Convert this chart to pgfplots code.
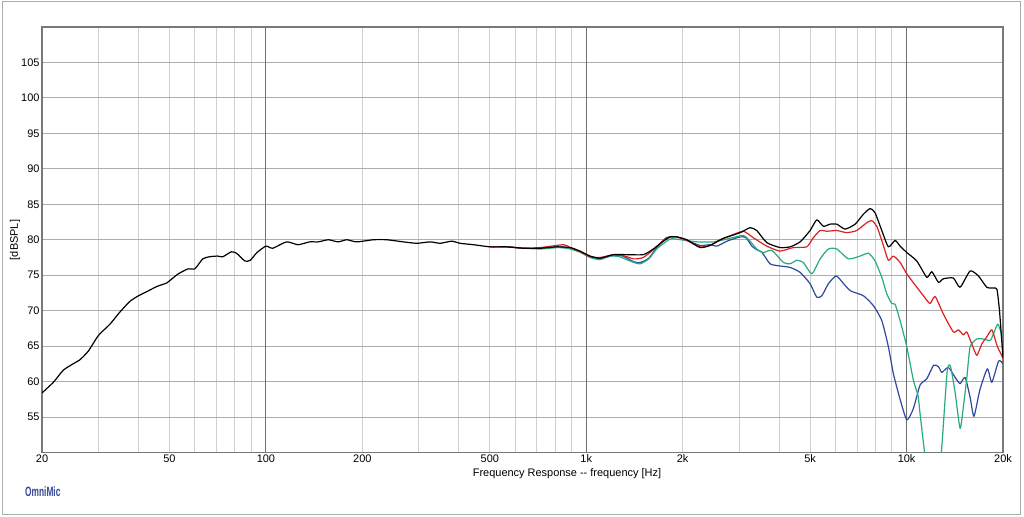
\documentclass[border=0pt]{standalone}
\usepackage{pgfplots}
\pgfplotsset{compat=1.18}
\usepackage{fontspec}
\setmainfont{Liberation Sans}
\definecolor{cred}{RGB}{222,32,32}
\definecolor{cgreen}{RGB}{38,172,128}
\definecolor{cblue}{RGB}{48,72,158}
\definecolor{gridlight}{RGB}{208,208,208}
\definecolor{gridmid}{RGB}{172,172,172}
\definecolor{gridmaj}{RGB}{112,112,112}
\definecolor{frame}{RGB}{120,120,120}
\definecolor{omniblue}{RGB}{52,72,150}

\pgfplotstableread{
f db
20 58.4
21.7 59.9
23.3 61.6
25.0 62.5
26.3 63.1
27.9 64.3
30 66.5
32.6 68.1
35 69.8
37.6 71.3
40 72.1
43 72.8
45.6 73.4
49 73.9
50 74.2
53.3 75.2
57.2 75.9
60 75.9
63.5 77.3
66.6 77.6
70.6 77.7
73.3 77.6
78 78.3
80.9 78.1
86 77.0
89.3 77.1
93.8 78.2
100 79.1
105 78.8
116 79.7
126 79.3
137 79.7
145.6 79.7
156.6 80.0
168 79.7
178.8 80.0
192 79.7
216.5 80.0
238.4 80.0
268.6 79.7
296 79.5
325.6 79.7
349.8 79.5
380.4 79.8
403.7 79.5
444.5 79.3
500.8 79.0
564.7 79.0
636.5 78.8
717.6 78.8
809 79.0
891 78.9
956 78.4
1028 77.7
1105 77.4
1216 77.9
1338 77.9
1507 77.9
1620 78.7
1741 79.8
1827 80.4
1917 80.4
2060 80.0
2266 78.9
2435 79.2
2679 80.2
3022 81.0
3247 81.7
3406 81.3
3660 79.6
4028 78.9
4328 79.0
4652 79.7
4997 81.3
5243 82.8
5500 81.9
5772 82.2
6056 82.2
6428 81.5
6908 82.2
7332 83.6
7694 84.4
7974 83.8
8368 81.3
8774 79.0
9208 79.9
9544 79.1
10014 78.2
10764 77.0
11566 74.7
11990 75.5
12572 74.0
13032 74.5
13998 74.6
14690 73.3
15786 75.6
16756 74.9
17800 73.3
18666 73.2
19150 73.0
19500 70.0
19800 66.0
20000 63.4
}\blackdata

\pgfplotstableread{
f db
500 79.0
565 79.0
640 78.8
720 78.9
850 79.3
891 78.9
960 78.3
1028 77.6
1105 77.5
1216 77.9
1300 77.8
1406 77.3
1507 77.5
1620 78.6
1741 79.9
1827 80.4
1917 80.4
2060 79.9
2266 79.0
2435 79.2
2618 80.0
2800 80.5
3090 81.2
3320 80.3
3660 79.1
4028 78.4
4431 78.9
4880 79.0
5117 80.3
5370 81.3
5630 81.2
6056 81.3
6506 81.0
6989 81.3
7508 82.4
7780 82.7
8072 81.9
8476 79.1
8774 77.1
9096 77.7
9544 76.8
10014 75.2
10764 73.3
11290 72.1
11830 71.0
12275 72.0
13032 69.5
13998 67.0
14520 67.3
15045 66.6
15417 67.0
15980 65.3
16566 63.7
17170 65.3
17800 66.3
18460 67.3
19150 65.1
19800 63.7
20000 63.2
}\reddata

\pgfplotstableread{
f db
500 79.0
565 79.0
640 78.8
720 78.7
820 78.9
891 78.7
960 78.2
1028 77.5
1105 77.2
1185 77.7
1270 77.6
1406 76.8
1475 76.6
1568 77.3
1660 78.7
1827 80.1
1970 80.0
2220 79.7
2500 79.7
2750 80.1
3090 80.6
3247 79.8
3406 78.7
3573 78.2
3797 78.5
4124 76.8
4328 76.6
4540 77.1
4760 76.8
5060 75.2
5370 77.3
5702 78.7
6056 78.7
6581 77.3
7158 77.7
7604 78.1
7974 77.0
8368 74.7
8670 72.4
8990 71.0
9208 70.9
9544 68.6
10014 64.9
10500 60.2
10860 58.0
11015 55.5
11380 50.0
11700 46.0
12200 45.0
12600 47.0
12880 50.8
13385 61.4
13700 62.2
14170 58.5
14690 53.4
15045 56.5
15417 60.5
15786 64.9
16566 66.0
17380 66.0
18230 65.8
18666 66.7
19260 68.1
19800 66.7
20000 66.5
}\greendata

\pgfplotstableread{
f db
500 79.0
565 79.0
640 78.8
720 78.8
820 79.0
891 78.8
960 78.3
1028 77.6
1105 77.3
1216 77.8
1300 77.7
1406 76.9
1475 76.8
1568 77.4
1660 78.9
1780 80.3
1917 80.4
2060 79.9
2266 79.2
2435 79.3
2560 79.1
2750 79.8
3022 80.4
3150 80.3
3290 79.1
3406 78.6
3540 78.2
3750 76.6
4028 76.3
4328 76.1
4652 75.4
4997 73.8
5243 71.9
5437 72.1
5702 73.8
6030 74.9
6360 73.8
6680 72.8
7332 72.1
7880 70.7
8368 68.6
8774 64.9
9096 61.1
9544 57.5
10014 54.6
10500 56.2
11015 59.5
11566 60.4
12140 62.3
12572 62.1
12880 61.3
13500 62.0
14170 60.6
14690 59.7
15230 60.6
15786 57.8
16230 55.1
16930 58.8
17870 61.8
18460 59.9
19380 62.9
20000 62.5
}\bluedata

\begin{document}
\begin{tikzpicture}
\useasboundingbox (0,0) rectangle (1024bp,517bp);
\fill[white] (0,0) rectangle (1024bp,517bp);
\draw[color=gridmid, line width=1bp] (2bp,2bp) rectangle (1020bp,515bp);
\begin{axis}[
  at={(42bp,64.5bp)}, anchor=south west,
  scale only axis, width=961bp, height=425.5bp,
  xmode=log, log basis x=10,
  xmin=20, xmax=20000, ymin=50, ymax=110,
  xtick={20,50,200,500,2000,5000,20000},
  xticklabels={20,50,200,500,2k,5k,20k},
  extra x ticks={100,1000,10000},
  extra x tick labels={100,1k,10k},
  extra x tick style={major x grid style={color=gridmaj, line width=1bp}},
  minor xtick={30,40,60,70,80,90,300,400,600,700,800,900,3000,4000,6000,7000,8000,9000},
  ytick={55,60,...,105},
  xmajorgrids, xminorgrids, ymajorgrids,
  major x grid style={color=gridlight, line width=0.9bp},
  minor x grid style={color=gridlight, line width=0.9bp},
  major y grid style={color=gridmid, line width=0.9bp},
  major tick length=0pt, minor tick length=0pt,
  axis line style={color=frame, line width=1.1bp},
  tick label style={font=\fontsize{11}{13}\selectfont, text=black},
  /pgf/number format/assume math mode=true,
  yticklabel style={xshift=1bp},
  xticklabel style={yshift=1bp},
  every axis plot/.append style={line width=1.2bp, line join=round, smooth, tension=0.35},
]
\addplot[cblue, no markers] table[x=f, y=db] {\bluedata};
\addplot[cgreen, no markers] table[x=f, y=db] {\greendata};
\addplot[cred, no markers] table[x=f, y=db] {\reddata};
\addplot[black, no markers] table[x=f, y=db] {\blackdata};
\end{axis}
\node[rotate=90, font=\fontsize{11}{13}\selectfont] at (15bp,277bp) {[dBSPL]};
\node[font=\fontsize{11}{13}\selectfont] at (567bp,43bp) {Frequency Response -{}- frequency [Hz]};
\node[anchor=west, text=omniblue, inner sep=0pt] at (25bp,25bp) {\fontsize{13.5}{15}\selectfont\bfseries\scalebox{0.62}[1]{OmniMic}};
\end{tikzpicture}
\end{document}
